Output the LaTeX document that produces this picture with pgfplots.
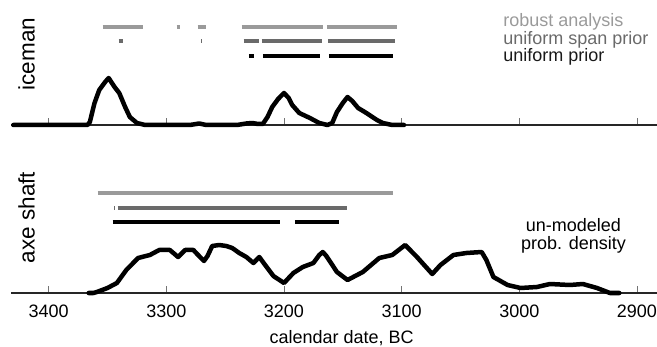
\documentclass[border=0pt]{standalone}
\usepackage{pgfplots}
\pgfplotsset{compat=1.18}
\usepackage{fontspec}
\setmainfont{Liberation Sans}
\definecolor{robc}{HTML}{9A9A9A}
\definecolor{spanc}{HTML}{6A6A6A}
\definecolor{priorc}{HTML}{000000}
\pgfplotsset{panel/.style={
  scale only axis, width=646bp,
  x dir=reverse, xmin=2883, xmax=3432,
  ymin=0,
  axis x line=bottom, axis y line=none,
  axis line style={-, line width=1.5pt, black!85},
  xtick={2900,3000,...,3400},
  tick align=inside, major tick length=7bp,
  tick style={black!55, line width=0.8pt},
  ytick=\empty,
  clip=false,
  unbounded coords=jump,
  /pgf/number format/assume math mode=true,
  /pgf/number format/1000 sep={},
  ticklabel style={font=\fontsize{18bp}{20bp}\selectfont},
  xticklabel style={anchor=base, yshift=-24bp},
  curve/.style={black, line width=4.5bp, line join=round, line cap=round},
  bar/.style={line width=4.2bp, line cap=butt},
}}
\begin{document}
\begin{tikzpicture}
\useasboundingbox (0,0) rectangle (657bp,347bp);
% top panel: iceman
\begin{axis}[panel, height=115bp, ymax=115, at={(11bp,222bp)}, anchor=south west, xticklabels={}]
\addplot[curve] coordinates {
(3430,0) (3367,0) (3365,3) (3361,22) (3357,35) (3352,43) (3349,47) (3344,38) (3340,32) (3335,18) (3331,8) (3325,2) (3318,0)
(3280,0) (3272,1.5) (3266,0) (3240,0) (3232,1.5) (3227,2) (3222,1) (3218,1) (3214,8) (3210,18) (3205,26) (3200,32) (3196,27) (3193,20) (3187,12) (3178,7) (3170,2) (3163,0)
(3159,2) (3155,13) (3150,22) (3146,28) (3142,24) (3137,17) (3130,12) (3121,5) (3116,2) (3108,0) (3098,0)
};
% robust analysis
\addplot[bar, robc] coordinates {(3354.1,98) (3320.1,98) (3300,nan) (3291.2,98) (3288.6,98) (3280,nan) (3273.3,98) (3266.5,98) (3250,nan) (3235.9,98) (3167,98) (3165,nan) (3163.6,98) (3104,98)};
% uniform span prior
\addplot[bar, spanc] coordinates {(3340.5,84) (3337,84) (3300,nan) (3270.4,84) (3269.5,84) (3250,nan) (3234.2,84) (3221.4,84) (3220,nan) (3218.9,84) (3167.9,84) (3165,nan) (3162.8,84) (3105.8,84)};
% uniform prior
\addplot[bar, priorc] coordinates {(3229.9,69) (3225.7,69) (3222,nan) (3218,69) (3169.6,69) (3165,nan) (3161.9,69) (3107.5,69)};
\node[anchor=base west, text=robc, font=\fontsize{18bp}{20bp}\selectfont] at (axis cs:3016.5,98) {robust analysis};
\node[anchor=base west, text=spanc, font=\fontsize{18bp}{20bp}\selectfont] at (axis cs:3016.5,80.5) {uniform span prior};
\node[anchor=base west, text=black!90, font=\fontsize{18bp}{20bp}\selectfont] at (axis cs:3016.5,63) {uniform prior};
\node[rotate=90, anchor=base, inner sep=0pt, font=\fontsize{22.5bp}{25bp}\selectfont] at (axis cs:3412,71) {iceman};
\end{axis}
% bottom panel: axe shaft
\begin{axis}[panel, height=113bp, ymax=113, at={(11bp,54bp)}, anchor=south west]
\addplot[curve] coordinates {
(3366,0) (3362,0) (3359,1) (3350,5) (3342,10) (3334,23) (3324,35) (3314,38) (3306,43) (3297,43) (3290,36) (3284,43) (3277,43) (3273,38) (3268,32) (3265,37) (3261,47) (3255,48) (3249,47) (3244,45) (3238,40) (3232,36) (3226,30) (3221,36) (3216,28) (3209,17) (3200,10) (3192,20) (3184,26) (3175,30) (3170,38) (3167,41) (3164,37) (3155,21) (3146,13) (3133,21) (3119,35) (3108,38) (3097,48) (3087,36) (3074,19) (3067,28) (3056,38) (3045,40) (3032,41) (3028,33) (3022,16) (3010,8) (2999,5) (2985,6) (2974,9) (2957,8) (2946,9) (2934,5) (2923,0) (2915,0)
};
\addplot[bar, robc] coordinates {(3358.3,100) (3107.5,100)};
\addplot[bar, spanc] coordinates {(3344.2,85) (3343.6,85) (3343,nan) (3341.3,85) (3146.6,85)};
\addplot[bar, priorc] coordinates {(3345.6,71) (3203.6,71) (3200,nan) (3190.8,71) (3153.4,71)};
\node[align=center, anchor=base, font=\fontsize{18bp}{18bp}\selectfont] at (axis cs:2954,43) {un-modeled\\prob. density};
\node[rotate=90, anchor=base, inner sep=0pt, font=\fontsize{22.5bp}{25bp}\selectfont] at (axis cs:3412,75.5) {axe shaft};
\node[anchor=base, font=\fontsize{18bp}{20bp}\selectfont] at (axis cs:3151,0) [yshift=-50bp] {calendar date, BC};
\end{axis}
\end{tikzpicture}
\end{document}
